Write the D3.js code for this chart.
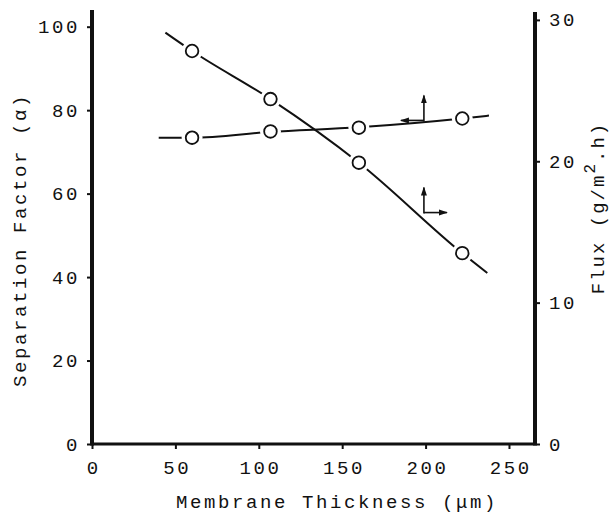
<!DOCTYPE html>
<html>
<head>
<meta charset="utf-8">
<script src="https://cdn.jsdelivr.net/npm/d3@7"></script>
<style>
  body { margin: 0; background: #fff; }
  text { font-family: "Liberation Mono", "DejaVu Sans Mono", monospace; fill: #111; }
</style>
</head>
<body>
<div id="chart"></div>
<script>
// Measured points
const thickness = [60, 107, 160, 222];
const sepFactor = [73.4, 74.9, 75.8, 78.0];
const flux = [27.8, 24.4, 19.9, 13.5];

// Hand drawn curves through the points
const sepCurveX = [40, 60, 107, 160, 222, 238];
const sepCurveY = [73.4, 73.4, 74.8, 75.9, 78.0, 78.7];
const fluxCurveX = [44, 60, 107, 160, 222, 237];
const fluxCurveY = [29.1, 27.8, 24.4, 19.9, 13.5, 12.1];

// Arrows telling which axis each curve belongs to
const arrowX = [199, 199];
const arrowY = [77.3, 16.3];
const arrowAxis = ["left", "right"];

// Tick labels
const xTicks = [0, 50, 100, 150, 200, 250];
const sepTicks = [0, 20, 40, 60, 80, 100];
const fluxTicks = [0, 10, 20, 30];

// Margins and dimensions
const margin = { top: 10, right: 76, bottom: 72, left: 92 },
      width = 611 - margin.left - margin.right,
      height = 516 - margin.top - margin.bottom;

const svg = d3.select("#chart")
  .append("svg")
  .attr("width", 611)
  .attr("height", 516)
  .append("g")
  .attr("transform", `translate(${margin.left}, ${margin.top})`);

const x = d3.scaleLinear().domain([0, 265.6]).range([0, width]);
const ySep = d3.scaleLinear().domain([0, 104]).range([height, 0]);
const yFlux = d3.scaleLinear().domain([0, 30.7]).range([height, 0]);

const fontSize = 19, spacing = 2.6;

// arrow head
svg.append("defs").append("marker")
  .attr("id", "head")
  .attr("markerUnits", "userSpaceOnUse")
  .attr("viewBox", "0 -4 9 8")
  .attr("refX", 8).attr("refY", 0)
  .attr("markerWidth", 9).attr("markerHeight", 8)
  .attr("orient", "auto")
  .append("path")
  .attr("d", "M0,-3L9,0L0,3Z")
  .attr("fill", "#111");

// --- Axes ---
function styleTicks(g) {
  g.select(".domain").remove();
  g.selectAll(".tick line").attr("stroke", "#111").attr("stroke-width", 2);
  g.selectAll(".tick text")
    .attr("font-size", fontSize)
    .attr("letter-spacing", spacing)
    .attr("fill", "#111");
}

svg.append("g")
  .attr("transform", `translate(0,${height})`)
  .call(d3.axisBottom(x).tickValues(xTicks).tickFormat(d3.format("d")).tickSize(5).tickPadding(12))
  .call(styleTicks)
  .call(g => g.selectAll(".tick text").attr("dx", spacing / 2));

svg.append("g")
  .call(d3.axisLeft(ySep).tickValues(sepTicks).tickSize(5).tickPadding(7))
  .call(styleTicks);

svg.append("g")
  .attr("transform", `translate(${width},0)`)
  .call(d3.axisRight(yFlux).tickValues(fluxTicks).tickSize(5).tickPadding(9))
  .call(styleTicks);

// spines
svg.append("line")
  .attr("x1", 0).attr("x2", 0).attr("y1", 0).attr("y2", height + 1.5)
  .attr("stroke", "#111").attr("stroke-width", 4);
svg.append("line")
  .attr("x1", width).attr("x2", width).attr("y1", 2).attr("y2", height + 1.5)
  .attr("stroke", "#111").attr("stroke-width", 4);
svg.append("line")
  .attr("x1", 0).attr("x2", width).attr("y1", height).attr("y2", height)
  .attr("stroke", "#111").attr("stroke-width", 3);

// --- Curves ---
const line = d3.line().curve(d3.curveMonotoneX);

svg.append("path")
  .attr("d", line(sepCurveX.map((v, i) => [x(v), ySep(sepCurveY[i])])))
  .attr("fill", "none").attr("stroke", "#111").attr("stroke-width", 2);

svg.append("path")
  .attr("d", line(fluxCurveX.map((v, i) => [x(v), yFlux(fluxCurveY[i])])))
  .attr("fill", "none").attr("stroke", "#111").attr("stroke-width", 2);

// open circles, with a white gap around them
const pts = thickness.map((t, i) => [x(t), ySep(sepFactor[i])])
  .concat(thickness.map((t, i) => [x(t), yFlux(flux[i])]));

svg.selectAll(".gap")
  .data(pts)
  .enter()
  .append("circle")
  .attr("cx", d => d[0]).attr("cy", d => d[1])
  .attr("r", 10.5)
  .attr("fill", "#fff");

svg.selectAll(".pt")
  .data(pts)
  .enter()
  .append("circle")
  .attr("cx", d => d[0]).attr("cy", d => d[1])
  .attr("r", 6.3)
  .attr("fill", "#fff")
  .attr("stroke", "#111")
  .attr("stroke-width", 1.8);

// --- Axis arrows ---
arrowX.forEach((ax, i) => {
  const px = x(ax);
  const py = arrowAxis[i] === "left" ? ySep(arrowY[i]) : yFlux(arrowY[i]);
  const dx = arrowAxis[i] === "left" ? -23 : 23;
  svg.append("line")
    .attr("x1", px).attr("y1", py).attr("x2", px).attr("y2", py - 26)
    .attr("stroke", "#111").attr("stroke-width", 1.6)
    .attr("marker-end", "url(#head)");
  svg.append("line")
    .attr("x1", px).attr("y1", py - 1).attr("x2", px + dx).attr("y2", py - 1)
    .attr("stroke", "#111").attr("stroke-width", 1.6)
    .attr("marker-end", "url(#head)");
});

// --- Axis titles ---
svg.append("text")
  .attr("x", 245)
  .attr("y", height + 64)
  .attr("text-anchor", "middle")
  .attr("font-size", fontSize)
  .attr("letter-spacing", spacing)
  .text("Membrane Thickness (\u03bcm)");

svg.append("text")
  .attr("transform", `translate(${26 - margin.left},${240 - margin.top}) rotate(-90)`)
  .attr("text-anchor", "middle")
  .attr("font-size", fontSize)
  .attr("letter-spacing", spacing)
  .text("Separation Factor (\u03b1)");

const fluxTitle = svg.append("text")
  .attr("transform", `translate(${604 - margin.left},${208 - margin.top}) rotate(-90)`)
  .attr("text-anchor", "middle")
  .attr("font-size", fontSize)
  .attr("letter-spacing", 2)
  .attr("x", 0);
fluxTitle.append("tspan").text("Flux (g/m");
fluxTitle.append("tspan").attr("dy", -9).attr("font-size", 16).text("2");
fluxTitle.append("tspan").attr("dy", 9).text(".h)");
</script>
</body>
</html>
